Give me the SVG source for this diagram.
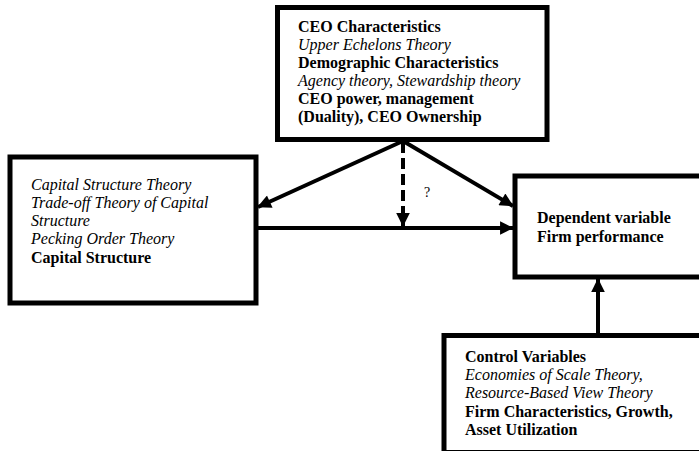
<svg xmlns="http://www.w3.org/2000/svg" width="699" height="451" viewBox="0 0 699 451">
<style>
.box{fill:#fff;stroke:#000;stroke-width:5}
.t{font-family:'Liberation Serif','Times New Roman',Times,serif;font-size:16px;fill:#000}
.b{font-weight:bold}
.i{font-style:italic}
.c{stroke:#000;stroke-width:4;fill:none}
.d{stroke-dasharray:11,5}
</style>
<defs>
<marker id="ah" viewBox="0 0 10 10" refX="9.5" refY="5" markerWidth="3.9" markerHeight="3.4" orient="auto" markerUnits="strokeWidth">
<path d="M0,0 L10,5 L0,10 z" fill="#000"/>
</marker>
</defs>
<rect width="699" height="451" fill="#fff"/>
<g id="ceo">
<rect class="box" x="277.5" y="7.5" width="269.5" height="132"/>
<text x="298" y="32" class="t b">CEO Characteristics</text>
<text x="298" y="50" class="t i">Upper Echelons Theory</text>
<text x="298" y="68" class="t b">Demographic Characteristics</text>
<text x="298" y="86" class="t i">Agency theory, Stewardship theory</text>
<text x="298" y="104" class="t b">CEO power, management</text>
<text x="298" y="122" class="t b">(Duality), CEO Ownership</text>
</g>
<g id="capital">
<rect class="box" x="10" y="157" width="246" height="146"/>
<text x="31" y="190" class="t i">Capital Structure Theory</text>
<text x="31" y="208" class="t i">Trade-off Theory of Capital</text>
<text x="31" y="226" class="t i">Structure</text>
<text x="31" y="244" class="t i">Pecking Order Theory</text>
<text x="31" y="263" class="t b">Capital Structure</text>
</g>
<g id="dependent">
<rect class="box" x="515" y="176" width="190" height="101"/>
<text x="537" y="223" class="t b">Dependent variable</text>
<text x="537" y="242" class="t b">Firm performance</text>
</g>
<g id="control">
<rect class="box" x="444" y="335.5" width="260" height="117"/>
<text x="465" y="362" class="t b">Control Variables</text>
<text x="465" y="380" class="t i">Economies of Scale Theory,</text>
<text x="465" y="398" class="t i">Resource-Based View Theory</text>
<text x="465" y="417" class="t b">Firm Characteristics, Growth,</text>
<text x="465" y="435" class="t b">Asset Utilization</text>
</g>
<g id="connectors">
<line class="c" x1="403" y1="141" x2="258" y2="207" marker-end="url(#ah)"/>
<line class="c" x1="403" y1="141" x2="513" y2="206" marker-end="url(#ah)"/>
<line class="c d" x1="403" y1="142" x2="403" y2="226" marker-end="url(#ah)"/>
<line class="c" x1="258" y1="228" x2="513" y2="228" marker-end="url(#ah)"/>
<line class="c" x1="598" y1="333" x2="598" y2="279" marker-end="url(#ah)"/>
<text x="424" y="197" class="t" style="font-size:14px">?</text>
</g>
</svg>
